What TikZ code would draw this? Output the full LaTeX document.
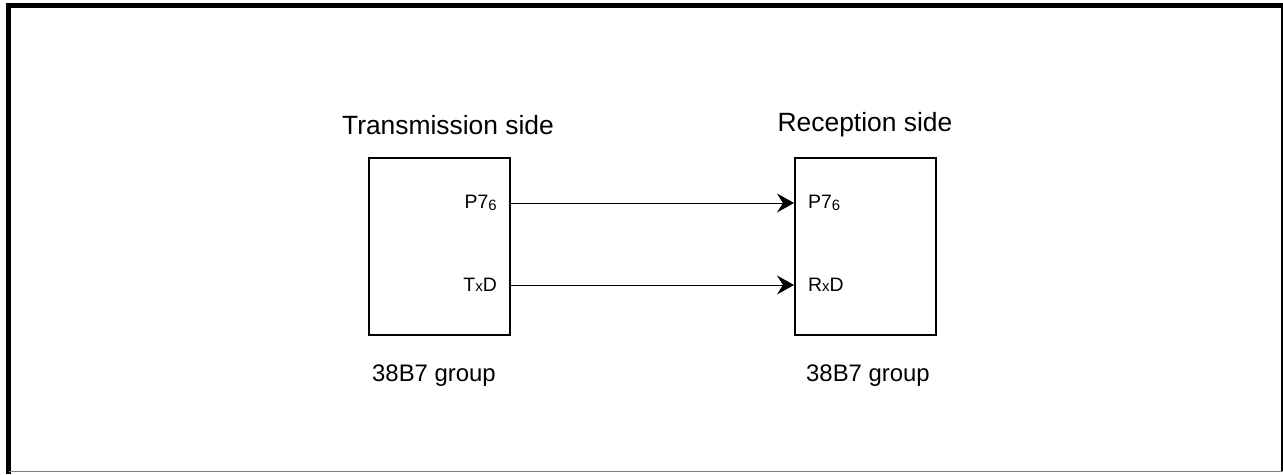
\documentclass[tikz,border=0pt]{standalone}
\usepackage{fontspec}
\setmainfont{Liberation Sans}
\usetikzlibrary{arrows.meta}
\newcommand{\smalltxt}[1]{{\fontsize{15}{18}\selectfont #1}}
\begin{document}
\begin{tikzpicture}[x=1bp,y=-1bp,
  chip/.style={draw,line width=2bp,minimum width=141bp,minimum height=177bp,inner sep=0pt},
  title/.style={font=\fontsize{26.5}{31}\selectfont,inner sep=0pt},
  group/.style={font=\fontsize{24}{28}\selectfont,inner sep=0pt},
  pin/.style={font=\fontsize{19.5}{23}\selectfont,inner sep=0pt},
  sig/.style={line width=0.8bp,-{Stealth[length=17bp,width=19bp,inset=6bp]}}]
\useasboundingbox (0,0) rectangle (1283,475);
\fill[white] (0,0) rectangle (1283,475);
% frame
\draw[line width=5bp,line cap=rect] (8.5,472) -- (8.5,6) -- (1283,6);
\draw[line width=3bp] (1282,6) -- (1282,472);
\draw[line width=1.5bp,gray] (8.5,471.5) -- (1283,471.5);
% chips
\node[chip] (tx) at (439,246.5) {};
\node[chip] (rx) at (865.5,246.5) {};
\node[title] (txt) at (448,125) {Transmission side};
\node[title] (rxt) at (865,125) {Reception side};
\node[group] (txg) at (434,376) {38B7 group};
\node[group] (rxg) at (868,376) {38B7 group};
% pins
\node[pin,anchor=east] (tp) at (497,203) {P7\raisebox{-0.15ex}{\smalltxt{6}}};
\node[pin,anchor=east] (tt) at (497,285) {T\smalltxt{x}D};
\node[pin,anchor=west] (rp) at (808,203) {P7\raisebox{-0.15ex}{\smalltxt{6}}};
\node[pin,anchor=west] (rr) at (808,285) {R\smalltxt{x}D};
% signals
\draw[sig] (tx.east |- tp) -- (rx.west |- rp);
\draw[sig] (tx.east |- tt) -- (rx.west |- rr);
\end{tikzpicture}
\end{document}
